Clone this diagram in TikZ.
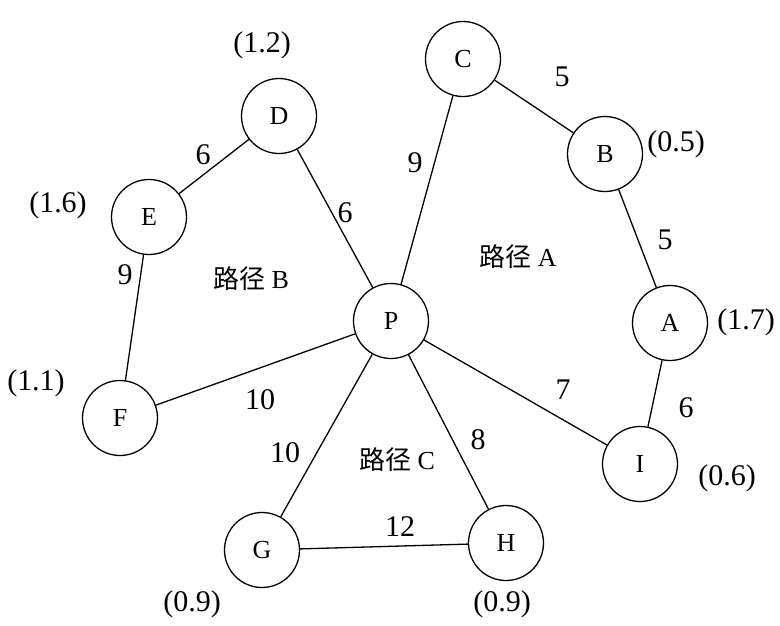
\documentclass[tikz,border=0pt]{standalone}
\usepackage{fontspec}
\setmainfont{Liberation Serif}
\newfontfamily\cjk{Noto Sans CJK SC}
\begin{document}
\begin{tikzpicture}[x=1pt,y=-1pt,
  vtx/.style={circle,draw,line width=1.3pt,minimum size=75pt,inner sep=0pt,font=\fontsize{26}{26}\selectfont},
  edge/.style={line width=1.3pt},
  wt/.style={font=\fontsize{30}{30}\selectfont,inner sep=0pt},
  val/.style={font=\fontsize{30}{30}\selectfont,inner sep=0pt},
  reg/.style={font=\fontsize{26}{26}\selectfont,inner sep=0pt}]
\useasboundingbox (0,0) rectangle (780,625);
\node[vtx] (C) at (463,59) {C};
\node[vtx] (B) at (605,154) {B};
\node[vtx] (D) at (279,116) {D};
\node[vtx] (E) at (149,217) {E};
\node[vtx] (A) at (670,323) {A};
\node[vtx] (P) at (391,321) {P};
\node[vtx] (F) at (120,418) {F};
\node[vtx] (I) at (640,464) {I};
\node[vtx] (G) at (262,550) {G};
\node[vtx] (H) at (506,543) {H};
\draw[edge] (C) -- (B);
\draw[edge] (C) -- (P);
\draw[edge] (D) -- (E);
\draw[edge] (D) -- (P);
\draw[edge] (E) -- (F);
\draw[edge] (F) -- (P);
\draw[edge] (B) -- (A);
\draw[edge] (A) -- (I);
\draw[edge] (P) -- (I);
\draw[edge] (P) -- (G);
\draw[edge] (P) -- (H);
\draw[edge] (G) -- (H);
\node[wt] (w1) at (562,77) {5};
\node[wt] (w2) at (415,163) {9};
\node[wt] (w3) at (665,240) {5};
\node[wt] (w4) at (203,155) {6};
\node[wt] (w5) at (345,213) {6};
\node[wt] (w6) at (125,275) {9};
\node[wt] (w7) at (260,400) {10};
\node[wt] (w8) at (563,390) {7};
\node[wt] (w9) at (686,408) {6};
\node[wt] (w10) at (285,453) {10};
\node[wt] (w11) at (478,440) {8};
\node[wt] (w12) at (400,527) {12};
\node[val] (v1) at (262,45) {(1.2)};
\node[val] (v2) at (676,144) {(0.5)};
\node[val] (v3) at (58,205) {(1.6)};
\node[val] (v4) at (746,322) {(1.7)};
\node[val] (v5) at (36,383) {(1.1)};
\node[val] (v6) at (727,478) {(0.6)};
\node[val] (v7) at (192,604) {(0.9)};
\node[val] (v8) at (502,604) {(0.9)};
\node[reg] (rB) at (251,279) {{\cjk 路径} B};
\node[reg] (rA) at (518,257) {{\cjk 路径} A};
\node[reg] (rC) at (397,460) {{\cjk 路径} C};
\end{tikzpicture}
\end{document}
